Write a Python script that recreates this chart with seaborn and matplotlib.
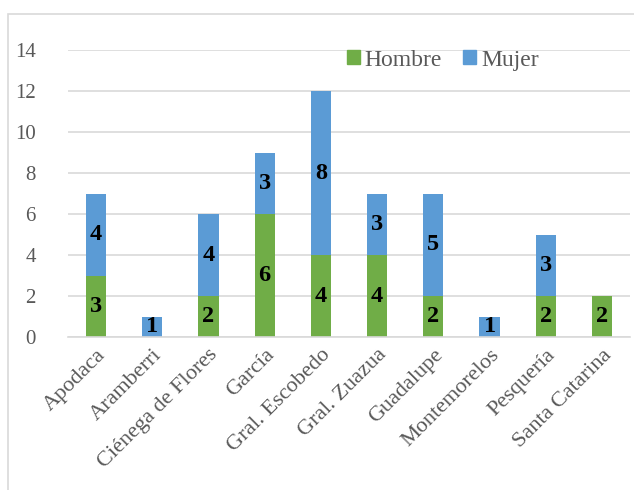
import numpy as np
import pandas as pd
import seaborn as sns
import matplotlib.pyplot as plt
from matplotlib.patches import Patch, Rectangle

municipios = ['Apodaca', 'Aramberri', 'Ciénega de Flores', 'García', 'Gral. Escobedo',
              'Gral. Zuazua', 'Guadalupe', 'Montemorelos', 'Pesquería', 'Santa Catarina']
hombre = [3, 0, 2, 6, 4, 4, 2, 0, 2, 2]
mujer = [4, 1, 4, 3, 8, 3, 5, 1, 3, 0]

green = '#70AD47'
blue = '#5B9BD5'

df = pd.DataFrame({'municipio': municipios, 'Hombre': hombre, 'Mujer': mujer})
df['total'] = df['Hombre'] + df['Mujer']

sns.set_theme(style='white')
plt.rcParams['font.family'] = ['Liberation Serif', 'DejaVu Serif']

fig = plt.figure(figsize=(6.34, 4.9), dpi=100)
ax = fig.add_axes([0.107, 0.312, 0.887, 0.586])

# border of the chart area
fig.patches.append(Rectangle((8 / 634, -0.1), 1.2, 1 - 14 / 490 + 0.1, transform=fig.transFigure,
                             fill=False, edgecolor='#d9d9d9', linewidth=1.2))

# stacked: total in blue, hombre in green on top
sns.barplot(data=df, x='municipio', y='total', color=blue, width=0.36, saturation=1,
            linewidth=0, ax=ax)
sns.barplot(data=df, x='municipio', y='Hombre', color=green, width=0.36, saturation=1,
            linewidth=0, ax=ax)

for i, row in df.iterrows():
    if row['Hombre'] > 0:
        ax.text(i, row['Hombre'] / 2, str(row['Hombre']), ha='center', va='center',
                fontsize=17.5, fontweight='bold', color='black')
    if row['Mujer'] > 0:
        ax.text(i, row['Hombre'] + row['Mujer'] / 2, str(row['Mujer']), ha='center', va='center',
                fontsize=17.5, fontweight='bold', color='black')

ax.set_ylim(0, 14)
ax.set_yticks(range(0, 15, 2))
ax.set_xlim(-0.5, len(municipios) - 0.5)
ax.yaxis.grid(True, color='#d9d9d9', linewidth=1.2)
ax.set_axisbelow(True)
for s in ['top', 'right', 'left']:
    ax.spines[s].set_visible(False)
ax.spines['bottom'].set_color('#d9d9d9')
ax.spines['bottom'].set_linewidth(1.2)
ax.set_xlabel('')
ax.set_ylabel('')
ax.tick_params(axis='both', length=0, colors='#595959')
ax.tick_params(axis='y', pad=23, labelsize=15)
ax.tick_params(axis='x', pad=6, labelsize=16)
plt.setp(ax.get_xticklabels(), rotation=45, ha='right', rotation_mode='anchor')

handles = [Patch(color=green, label='Hombre'), Patch(color=blue, label='Mujer')]
ax.legend(handles=handles, ncol=2, frameon=False, loc='center', bbox_to_anchor=(0.667, 0.965),
          fontsize=17, handlelength=0.55, handleheight=0.55, handletextpad=0.2,
          columnspacing=0.9, labelcolor='#595959', borderpad=0)

fig.savefig('out.png', dpi=100)
